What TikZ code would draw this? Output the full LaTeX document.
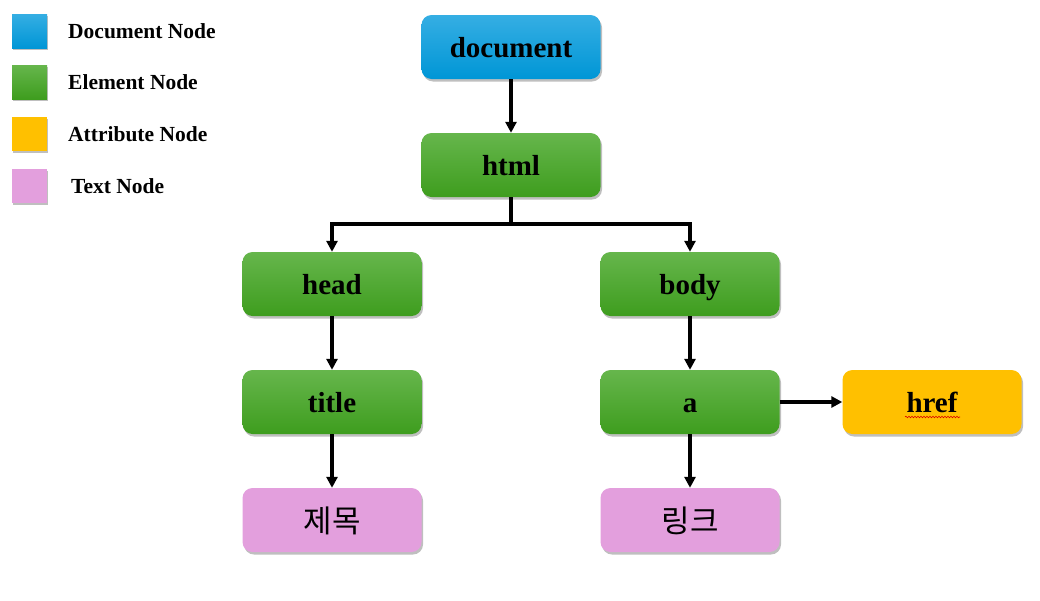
\documentclass[tikz,border=0pt]{standalone}
\usepackage{fontspec}
\setmainfont{Liberation Serif}
\newfontfamily\kofont{Noto Sans CJK KR}
\usetikzlibrary{shadows,arrows.meta,decorations.pathmorphing}
\definecolor{docTop}{HTML}{35AEE3}
\definecolor{docBot}{HTML}{0096D6}
\definecolor{elTop}{HTML}{66B64C}
\definecolor{elBot}{HTML}{3E9D1E}
\definecolor{attrC}{HTML}{FFC000}
\definecolor{textC}{HTML}{E39FDD}
\tikzset{
  box/.style={rounded corners=10pt, minimum width=179pt, minimum height=64pt,
    inner sep=0pt, text height=20pt, text depth=0pt,
    font=\fontsize{29}{32}\selectfont\bfseries,
    drop shadow={shadow xshift=1.5pt, shadow yshift=-2.5pt, opacity=0.25, fill=black}},
  docbox/.style={box, top color=docTop, bottom color=docBot},
  elbox/.style={box, top color=elTop, bottom color=elBot},
  attrbox/.style={box, fill=attrC},
  textbox/.style={box, fill=textC, text height=24pt, font=\fontsize{31}{34}\kofont},
  legsq/.style={minimum width=35pt, minimum height=34pt, inner sep=0pt,
    drop shadow={shadow xshift=1pt, shadow yshift=-2pt, opacity=0.25, fill=black}},
  leglab/.style={anchor=west, inner sep=0pt, font=\fontsize{21.5}{24}\selectfont\bfseries},
  conn/.style={line width=3.2pt, -{Triangle[length=11pt,width=11pt]}},
}
\begin{document}
\begin{tikzpicture}[x=1pt,y=-1pt]
\useasboundingbox (0,0) rectangle (1040,600);
% legend
\node[legsq, top color=docTop, bottom color=docBot] (l1) at (29.5,31) {};
\node[legsq, top color=elTop, bottom color=elBot] (l2) at (29.5,82) {};
\node[legsq, fill=attrC] (l3) at (29.5,134) {};
\node[legsq, fill=textC] (l4) at (29.5,186) {};
\node[leglab] (t1) at (68,31) {Document Node};
\node[leglab] (t2) at (68,82) {Element Node};
\node[leglab] (t3) at (68,134) {Attribute Node};
\node[leglab] (t4) at (71,186) {Text Node};
% nodes
\node[docbox] (doc) at (511,47) {document};
\node[elbox] (html) at (511,165) {html};
\node[elbox] (head) at (332,284) {head};
\node[elbox] (body) at (690,284) {body};
\node[elbox] (title) at (332,402) {title};
\node[elbox] (a) at (690,402) {a};
\node[attrbox] (href) at (932,402) {href};
\node[textbox] (jemok) at (332,520) {제목};
\node[textbox] (link) at (690,520) {링크};
% spell-check underline
\coordinate (u1) at (905,417);
\coordinate (u2) at (960,417);
\draw[red!85!black, line width=0.6pt, decorate, decoration={snake, amplitude=0.8pt, segment length=3pt}] (u1) -- (u2);
% connectors
\coordinate (j) at (511,224);
\draw[conn] (doc) -- (html);
\draw[line width=3.2pt] (html.south) -- (j);
\draw[conn] (j) -| (head.north);
\draw[conn] (j) -| (body.north);
\draw[conn] (head) -- (title);
\draw[conn] (body) -- (a);
\draw[conn] (title) -- (jemok);
\draw[conn] (a) -- (link);
\draw[conn] (a) -- (href);
\end{tikzpicture}
\end{document}
